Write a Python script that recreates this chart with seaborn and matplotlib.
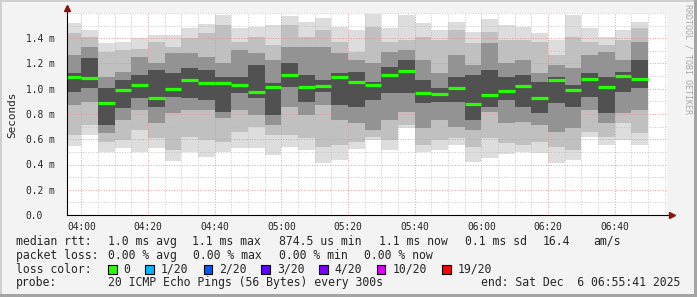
import numpy as np
import pandas as pd
import matplotlib
matplotlib.use("Agg")
import matplotlib.pyplot as plt
import matplotlib.transforms as mtransforms
from matplotlib.patches import Rectangle
from matplotlib.ticker import FixedLocator, MultipleLocator
import seaborn as sns

# ---------------- data (RTT in milliseconds) ----------------
bar_minutes = np.arange(235, 410, 5)          # 03:55 ... 06:45 bar starts (minutes after midnight)
x_tick_labels = ["04:00", "04:20", "04:40", "05:00", "05:20", "05:40", "06:00", "06:20", "06:40"]
y_tick_labels = ["0.0", "0.2 m", "0.4 m", "0.6 m", "0.8 m", "1.0 m", "1.2 m", "1.4 m"]

median = [1.091, 1.083, 0.890, 0.990, 1.027, 0.927, 0.996, 1.067, 1.048, 1.048, 1.030, 0.977,
          1.014, 1.111, 1.016, 1.019, 1.091, 1.051, 1.030, 1.111, 1.141, 0.969, 0.956, 1.008,
          0.882, 0.950, 0.980, 1.019, 0.927, 1.067, 0.988, 1.080, 1.012, 1.101, 1.080]
ping_max = [1.518, 1.465, 1.360, 1.368, 1.400, 1.426, 1.426, 1.479, 1.513, 1.584, 1.479, 1.491,
            1.505, 1.576, 1.531, 1.558, 1.491, 1.465, 1.592, 1.479, 1.584, 1.518, 1.465, 1.531,
            1.452, 1.550, 1.505, 1.491, 1.439, 1.386, 1.584, 1.479, 1.412, 1.465, 1.531]
ping_hi2 = [1.444, 1.412, 1.293, 1.307, 1.312, 1.373, 1.333, 1.400, 1.439, 1.505, 1.373, 1.412,
            1.347, 1.505, 1.412, 1.465, 1.373, 1.293, 1.491, 1.373, 1.386, 1.412, 1.386, 1.465,
            1.360, 1.452, 1.386, 1.386, 1.373, 1.267, 1.412, 1.373, 1.347, 1.386, 1.479]
ping_hi3 = [1.267, 1.333, 1.095, 1.135, 1.254, 1.202, 1.281, 1.281, 1.254, 1.202, 1.307, 1.281,
            1.228, 1.333, 1.333, 1.333, 1.281, 1.228, 1.202, 1.293, 1.307, 1.228, 1.122, 1.267,
            1.188, 1.360, 1.202, 1.228, 1.122, 1.188, 1.162, 1.267, 1.293, 1.228, 1.373]
ping_hi4 = [1.122, 1.241, 1.004, 1.069, 1.109, 1.149, 1.122, 1.162, 1.149, 1.095, 1.095, 1.188,
            1.043, 1.202, 1.109, 1.069, 1.122, 1.135, 1.056, 1.175, 1.228, 1.069, 1.004, 1.095,
            1.109, 1.149, 1.095, 1.109, 1.056, 1.095, 1.030, 1.122, 1.095, 1.135, 1.228]
ping_lo4 = [0.977, 1.004, 0.713, 0.845, 0.924, 0.858, 0.937, 0.924, 0.911, 0.818, 0.964, 0.924,
            0.792, 1.016, 0.897, 0.977, 0.871, 0.858, 0.911, 0.964, 0.964, 0.885, 0.897, 0.897,
            0.752, 0.858, 0.911, 0.858, 0.806, 0.885, 0.858, 0.937, 0.806, 0.977, 1.004]
ping_lo3 = [0.871, 0.897, 0.647, 0.752, 0.832, 0.726, 0.806, 0.832, 0.832, 0.766, 0.832, 0.792,
            0.713, 0.858, 0.792, 0.871, 0.752, 0.726, 0.673, 0.752, 0.818, 0.687, 0.752, 0.699,
            0.673, 0.818, 0.726, 0.739, 0.713, 0.660, 0.687, 0.832, 0.726, 0.806, 0.832]
ping_lo2 = [0.634, 0.713, 0.581, 0.594, 0.673, 0.608, 0.515, 0.620, 0.594, 0.581, 0.660, 0.699,
            0.634, 0.634, 0.608, 0.541, 0.554, 0.581, 0.620, 0.594, 0.713, 0.554, 0.594, 0.608,
            0.541, 0.608, 0.568, 0.554, 0.581, 0.541, 0.515, 0.660, 0.620, 0.726, 0.647]
ping_min = [0.547, 0.634, 0.501, 0.528, 0.501, 0.528, 0.430, 0.501, 0.462, 0.501, 0.528, 0.528,
            0.475, 0.541, 0.515, 0.414, 0.436, 0.520, 0.594, 0.515, 0.687, 0.501, 0.515, 0.554,
            0.422, 0.449, 0.483, 0.501, 0.489, 0.414, 0.436, 0.620, 0.554, 0.594, 0.554]

loss_labels = ["0", "1/20", "2/20", "3/20", "4/20", "10/20", "19/20"]
loss_colors = ["#26ff00", "#00b8ff", "#0059ff", "#5e00ff", "#7e00ff", "#dd00ff", "#ff0000"]

# ---------------- figure ----------------
sns.set_style("white")
plt.rcParams["font.family"] = ["DejaVu Sans Mono", "DejaVu Sans"]

W, H = 697, 297
fig = plt.figure(figsize=(W / 100, H / 100), dpi=100, facecolor="#f3f3f3")
ax = fig.add_axes([67 / W, (H - 215) / H, 600 / W, 202 / H])
ax.set_facecolor("white")

t_start = 3 * 60 + 55 + 41 / 60
t_end = 6 * 60 + 55 + 41 / 60

# smoke bands (outer -> inner)
bands = [(ping_min, ping_max, "#dddddd"),
         (ping_lo2, ping_hi2, "#c0c0c0"),
         (ping_lo3, ping_hi3, "#939393"),
         (ping_lo4, ping_hi4, "#515151")]
for k, (lo, hi, col) in enumerate(bands):
    lo = np.asarray(lo)
    hi = np.asarray(hi)
    ax.bar(bar_minutes, hi - lo, bottom=lo, width=5, align="edge",
           color=col, linewidth=0, zorder=1 + k)

# median rtt as step segments
rows = []
for i, (t, m) in enumerate(zip(bar_minutes, median)):
    rows.append({"t": t, "v": m, "bar": i})
    rows.append({"t": t + 5, "v": m, "bar": i})
med_df = pd.DataFrame(rows)
sns.lineplot(data=med_df, x="t", y="v", units="bar", estimator=None,
             color=loss_colors[0], linewidth=2.3, ax=ax, legend=False, zorder=8)
for ln in ax.get_lines():
    ln.set_solid_capstyle("butt")
ax.set_xlim(t_start, t_end)
ax.set_ylim(0, 1.6)

# grid
major_x = [240 + 20 * i for i in range(len(x_tick_labels))]
ax.xaxis.set_major_locator(FixedLocator(major_x))
ax.xaxis.set_minor_locator(MultipleLocator(5))
ax.yaxis.set_major_locator(FixedLocator([0.2 * i for i in range(len(y_tick_labels))]))
ax.yaxis.set_minor_locator(MultipleLocator(0.1))
ax.set_axisbelow(False)
ax.grid(which="minor", color="#bdbdbd", linestyle=(0, (1, 1.6)), linewidth=0.72, alpha=0.8, zorder=6)
ax.grid(which="major", color="#e89090", linestyle=(0, (1, 1.6)), linewidth=0.72, alpha=0.85, zorder=7)

ax.set_xticklabels(x_tick_labels)
ax.set_yticklabels(y_tick_labels)
ax.set_xlabel("")
ax.set_ylabel("")
ax.tick_params(axis="both", which="major", length=3, width=0.7, color="black",
               labelsize=6.95, direction="out")
ax.tick_params(axis="both", which="minor", length=1.5, width=0.7, color="black", direction="out")
ax.tick_params(axis="x", which="major", pad=2.2)
ax.tick_params(axis="y", which="major", pad=0)

for lab in ax.get_yticklabels():
    lab.set_horizontalalignment("left")
    lab.set_verticalalignment("center_baseline")
    lab.set_transform(lab.get_transform() +
                      mtransforms.ScaledTranslation(-37 / 100, 0, fig.dpi_scale_trans))

for s in ["top", "right"]:
    ax.spines[s].set_visible(False)
for s in ["left", "bottom"]:
    ax.spines[s].set_color("black")
    ax.spines[s].set_linewidth(0.8)
    ax.spines[s].set_zorder(9)

# axis arrows
ax.plot([1.0, 1.008], [0, 0], transform=ax.transAxes, color="black", lw=0.8, clip_on=False, zorder=9)
ax.plot([1.009], [0], transform=ax.transAxes, marker=">", ms=4.5, color="#8b1010", clip_on=False, zorder=10)
ax.plot([0, 0], [1.0, 1.02], transform=ax.transAxes, color="black", lw=0.8, clip_on=False, zorder=9)
ax.plot([0], [1.025], transform=ax.transAxes, marker="^", ms=4.5, color="#8b1010", clip_on=False, zorder=10)

# unit label and watermark
fig.text(12 / W, 1 - 115 / H, "Seconds", rotation=90, ha="center", va="center", fontsize=7.9)
fig.text(688 / W, 1 - 4 / H, "RRDTOOL / TOBI OETIKER", rotation=270, ha="center", va="top",
         fontsize=6.0, color="#a8a8a8")

# legend lines
FS = 8.3
def ftext(x, y, s, **kw):
    fig.text(x / W, 1 - y / H, s, fontsize=FS, va="center", **kw)

ftext(16, 241.5, "median rtt:")
for xx, s in [(107.6, "1.0 ms avg"), (192, "1.1 ms max"), (279, "874.5 us min"),
              (378.7, "1.1 ms now"), (465.3, "0.1 ms sd"), (543, "16.4"), (593, "am/s")]:
    ftext(xx, 241.5, s)
ftext(16, 255.5, "packet loss:")
for xx, s in [(107.6, "0.00 % avg"), (193.3, "0.00 % max"), (279, "0.00 % min"), (364, "0.00 % now")]:
    ftext(xx, 255.5, s)
ftext(16, 269.3, "loss color:")
box_x = [108, 145.3, 203.6, 261.3, 319, 376.9, 442.2]
for bx, lab, col in zip(box_x, loss_labels, loss_colors):
    fig.patches.append(Rectangle((bx / W, 1 - 273.5 / H), 8.5 / W, 8.5 / H,
                                 transform=fig.transFigure, facecolor=col,
                                 edgecolor="black", linewidth=0.8))
    ftext(bx + 15.5, 269.3, lab)
ftext(16, 282.7, "probe:")
ftext(107.6, 282.7, "20 ICMP Echo Pings (56 Bytes) every 300s")
ftext(680, 282.7, "end: Sat Dec  6 06:55:41 2025", ha="right")

# 3D frame
for (x0, y0, w, h, c) in [(0, 0, W, 2, "#cfcfcf"), (0, 0, 2, H, "#cfcfcf"),
                          (0, H - 3, W, 3, "#a4a4a4"), (W - 3, 0, 3, H, "#a4a4a4")]:
    fig.patches.append(Rectangle((x0 / W, 1 - (y0 + h) / H), w / W, h / H,
                                 transform=fig.transFigure, facecolor=c, edgecolor="none"))

fig.savefig("out.png", dpi=100, facecolor=fig.get_facecolor())
